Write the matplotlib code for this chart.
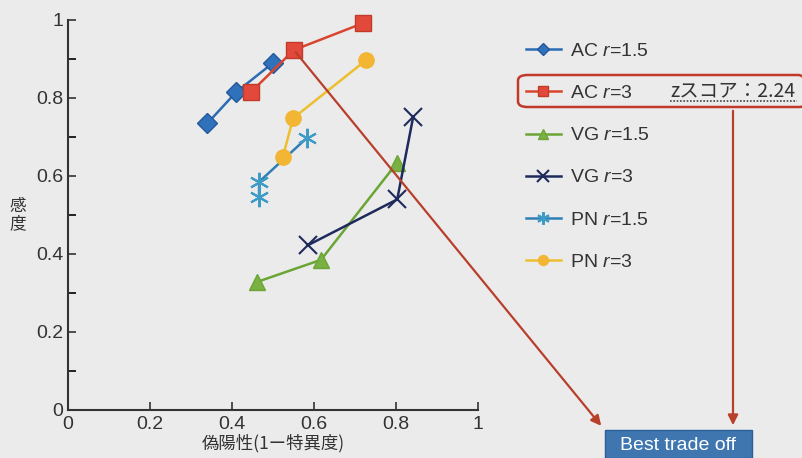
"""
ROC-style plot: sensitivity vs false positive rate for AC / VG / PN at r=1.5 and r=3
"""
import matplotlib
matplotlib.use("Agg")
import matplotlib.pyplot as plt
from matplotlib.patches import FancyBboxPatch, Rectangle

plt.rcParams['font.family'] = ['Liberation Sans', 'Noto Sans CJK JP', 'DejaVu Sans']
plt.rcParams['mathtext.fontset'] = 'custom'
plt.rcParams['mathtext.it'] = 'Liberation Sans:italic'
plt.rcParams['mathtext.rm'] = 'Liberation Sans'

# data (false positive rate, sensitivity)
ac15_x = [0.34, 0.41, 0.50]
ac15_y = [0.735, 0.815, 0.89]
ac3_x = [0.446, 0.551, 0.72]
ac3_y = [0.815, 0.923, 0.992]
vg15_x = [0.46, 0.617, 0.802]
vg15_y = [0.328, 0.385, 0.633]
vg3_x = [0.586, 0.803, 0.842]
vg3_y = [0.423, 0.54, 0.752]
pn15_x = [0.466, 0.466, 0.582]
pn15_y = [0.546, 0.585, 0.697]
pn3_x = [0.524, 0.549, 0.727]
pn3_y = [0.649, 0.748, 0.897]

labels = ['AC $r$=1.5', 'AC $r$=3', 'VG $r$=1.5', 'VG $r$=3', 'PN $r$=1.5', 'PN $r$=3']
zscore_text = 'zスコア：2.24'
best_text = 'Best trade off'

bg = '#ebebeb'
W, H = 802, 458

fig = plt.figure(figsize=(W / 100, H / 100), dpi=100, facecolor=bg)
ax = fig.add_axes([68 / W, 1 - 410 / H, 410 / W, 390 / H], facecolor=bg)

series = [
    (ac15_x, ac15_y, dict(color='#2b6cb3', marker='D', ms=10, mfc='#2f72bb', mec='#24589a')),
    (ac3_x, ac3_y, dict(color='#d9452f', marker='s', ms=11, mfc='#e2493a', mec='#c23a2a')),
    (vg15_x, vg15_y, dict(color='#6aa536', marker='^', ms=11, mfc='#7bb042', mec='#6aa536')),
    (vg3_x, vg3_y, dict(color='#1e2a5c', marker='x', ms=13, mew=1.5)),
    (pn15_x, pn15_y, dict(color='#2f7fb4', marker=(6, 2, 0), ms=14, mec='#3d9bc6', mew=1.5)),
    (pn3_x, pn3_y, dict(color='#ecbf2e', marker='o', ms=11, mfc='#f2b634', mec='#f2b634')),
]
handles = []
for (xs, ys, kw), lab in zip(series, labels):
    h, = ax.plot(xs, ys, lw=1.8, label=lab, clip_on=False, **kw)
    handles.append(h)

ax.set_xlim(0, 1)
ax.set_ylim(0, 1)
ax.set_xticks([0, 0.2, 0.4, 0.6, 0.8, 1])
ax.set_xticklabels(['0', '0.2', '0.4', '0.6', '0.8', '1'])
ax.set_yticks([0, 0.2, 0.4, 0.6, 0.8, 1])
ax.set_yticklabels(['0', '0.2', '0.4', '0.6', '0.8', '1'])
ax.set_yticks([0.1, 0.3, 0.5, 0.7, 0.9], minor=True)
ax.tick_params(direction='in', length=6, width=1.2, labelsize=14, colors='#333333')
ax.tick_params(axis='x', pad=4)
ax.tick_params(which='minor', direction='in', length=6, width=1.2)
for s in ['top', 'right']:
    ax.spines[s].set_visible(False)
for s in ['left', 'bottom']:
    ax.spines[s].set_linewidth(1.5)
    ax.spines[s].set_color('#333333')

ax.set_xlabel('偽陽性(1ー特異度)', fontsize=12.5, color='#333333',
              family=['Noto Sans CJK JP', 'DejaVu Sans'], labelpad=1)
fig.text(18 / W, 1 - 215 / H, '感\n度', fontsize=12, color='#333333',
         family=['Noto Sans CJK JP', 'DejaVu Sans'], ha='center', va='center',
         linespacing=1.0)

leg = fig.legend(handles=handles, loc='upper left',
                 bbox_to_anchor=(508 / W, 1 - 25 / H), frameon=False,
                 fontsize=14, handlelength=1.8, handletextpad=0.5,
                 labelspacing=1.26, markerscale=0.65, labelcolor='#333333')

# highlight box around "AC r=3" legend row
box = FancyBboxPatch((518 / W, 1 - 107 / H), 290 / W, 32 / H,
                     boxstyle='round,pad=0,rounding_size=0.012',
                     transform=fig.transFigure, fill=False,
                     edgecolor='#c0392b', lw=1.8, clip_on=False)
fig.add_artist(box)
fig.text(670 / W, 1 - 91 / H, zscore_text, fontsize=14, color='#333333',
         family=['Noto Sans CJK JP', 'DejaVu Sans'], ha='left', va='center')
fig.add_artist(plt.Line2D([670 / W, 797 / W], [1 - 101 / H, 1 - 101 / H],
                          transform=fig.transFigure, color='#444444', lw=1.2,
                          ls=(0, (1, 1))))

# "Best trade off" box
fig.add_artist(Rectangle((605 / W, 0), 147 / W, 28 / H, transform=fig.transFigure,
                         facecolor='#3f76b0', edgecolor='#2c5f95', lw=1))
fig.text(678 / W, 12 / H, best_text, fontsize=14, color='white',
         ha='center', va='center')

arrow_kw = dict(arrowstyle='-|>,head_length=0.6,head_width=0.3', color='#b8402a', lw=1.6)
ax.annotate('', xy=(603 / W, 1 - 428 / H), xycoords='figure fraction',
            xytext=(ac3_x[1], ac3_y[1]), textcoords='data', arrowprops=arrow_kw)
ax.annotate('', xy=(733 / W, 1 - 428 / H), xycoords='figure fraction',
            xytext=(733 / W, 1 - 108 / H), textcoords='figure fraction',
            arrowprops=arrow_kw)

fig.savefig('out.png', dpi=100, facecolor=bg)
